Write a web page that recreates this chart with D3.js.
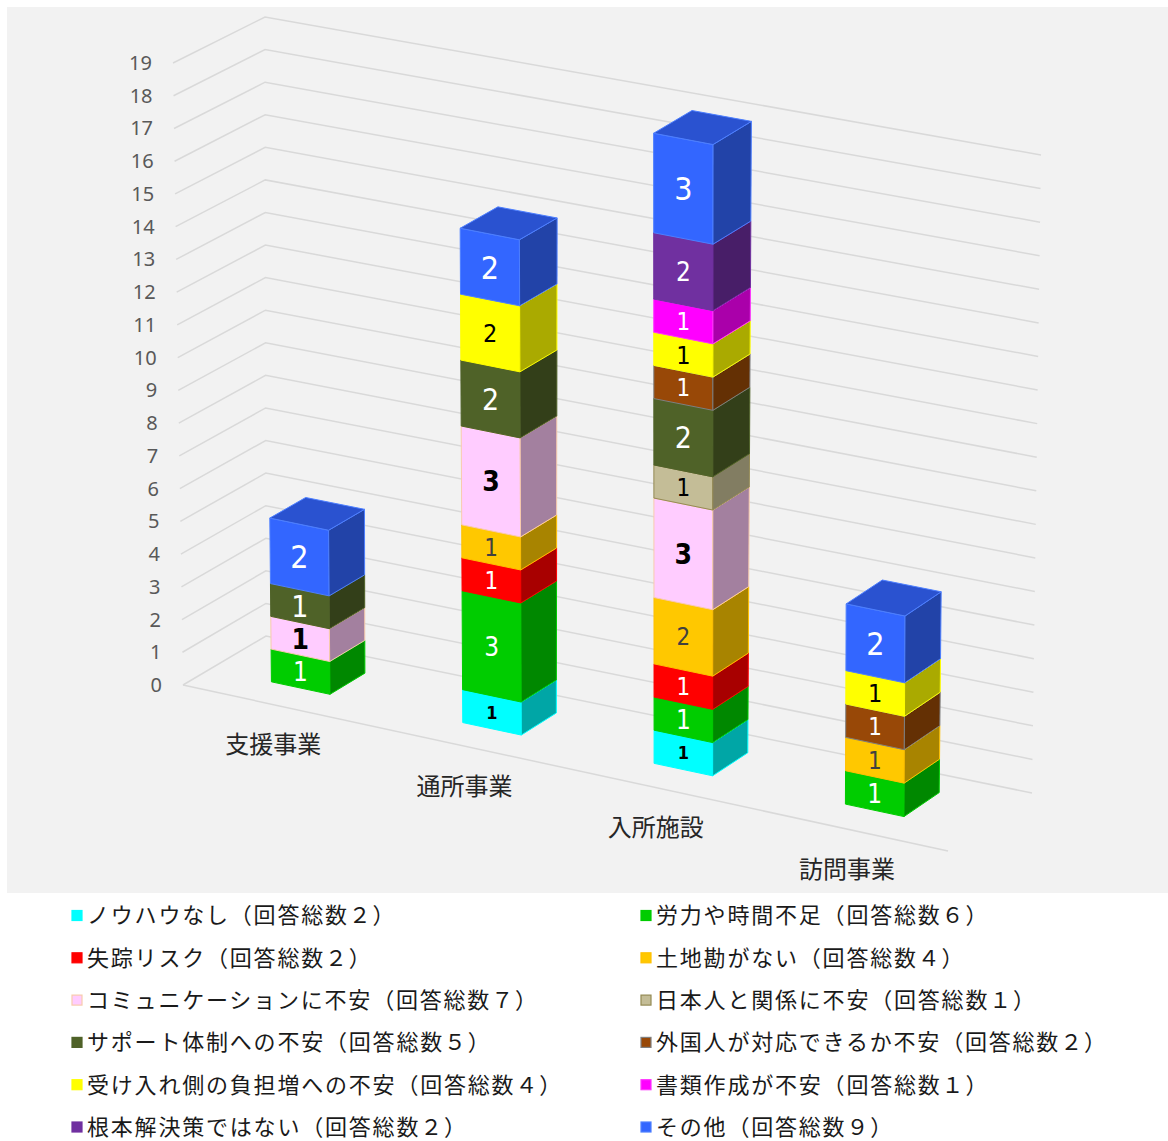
<!DOCTYPE html>
<html>
<head>
<meta charset="utf-8">
<script src="https://cdn.jsdelivr.net/npm/d3@7"></script>
<style>
  html, body { margin: 0; padding: 0; background: #ffffff; }
  svg { display: block; }
</style>
</head>
<body>
<svg id="chart" width="1168" height="1141"></svg>
<script>
// ---------------- DATA ----------------
const categories = ["支援事業", "通所事業", "入所施設", "訪問事業"];
const yTicks = [0, 1, 2, 3, 4, 5, 6, 7, 8, 9, 10, 11, 12, 13, 14, 15, 16, 17, 18, 19];

const seriesNames = [
  "ノウハウなし", "労力や時間不足", "失踪リスク", "土地勘がない",
  "コミュニケーションに不安", "日本人と関係に不安", "サポート体制への不安",
  "外国人が対応できるか不安", "受け入れ側の負担増への不安", "書類作成が不安",
  "根本解決策ではない", "その他"
];

const knowhow             = [0, 1, 1, 0];
const laborTime           = [1, 3, 1, 1];
const runawayRisk         = [0, 1, 1, 0];
const noLocalKnowledge    = [0, 1, 2, 1];
const communication       = [1, 3, 3, 0];
const japaneseRelations   = [0, 0, 1, 0];
const supportSystem       = [1, 2, 2, 0];
const foreignerCapability = [0, 0, 1, 1];
const hostBurden          = [0, 2, 1, 1];
const paperwork           = [0, 0, 1, 0];
const notFundamental      = [0, 0, 2, 0];
const other               = [2, 2, 3, 2];

const seriesValues = [knowhow, laborTime, runawayRisk, noLocalKnowledge, communication,
  japaneseRelations, supportSystem, foreignerCapability, hostBurden, paperwork,
  notFundamental, other];

// ---------------- STYLES ----------------
const styles = [
  {front:"#00FFFF", side:"#00A6A6", top:"#00D4D4", stroke:"#00FFFF", label:"#000000", size:18, weight:"bold"},
  {front:"#00CC00", side:"#008800", top:"#00AA00", stroke:"#00CC00", label:"#FFFFFF", size:26, weight:"normal"},
  {front:"#FF0000", side:"#A80000", top:"#D00000", stroke:"#FF0000", label:"#FFFFFF", size:24, weight:"normal"},
  {front:"#FFC800", side:"#A88400", top:"#D8A800", stroke:"#FFC000", label:"#404040", size:24, weight:"normal"},
  {front:"#FFCCFF", side:"#A3809F", top:"#D8ACD8", stroke:"#F8CBAD", label:"#000000", size:28, weight:"bold"},
  {front:"#C4BD97", side:"#827D62", top:"#A8A27E", stroke:"#948A54", label:"#000000", size:24, weight:"normal"},
  {front:"#4F6228", side:"#333F19", top:"#414F20", stroke:"#4F6228", label:"#FFFFFF", size:30, weight:"normal"},
  {front:"#984807", side:"#643004", top:"#7E3C06", stroke:"#7F7F7F", label:"#FFFFFF", size:24, weight:"normal"},
  {front:"#FFFF00", side:"#AAAA00", top:"#D6D600", stroke:"#FFFF00", label:"#000000", size:25, weight:"normal"},
  {front:"#FF00FF", side:"#AA00AA", top:"#D600D6", stroke:"#FF33FF", label:"#FFFFFF", size:24, weight:"normal"},
  {front:"#7030A0", side:"#481E68", top:"#5C2884", stroke:"#7030A0", label:"#FFFFFF", size:26, weight:"normal"},
  {front:"#3366FF", side:"#2243A8", top:"#2A52D0", stroke:"#4D7FFF", label:"#FFFFFF", size:32, weight:"normal"}
];

// ---------------- LAYOUT / PROJECTION ----------------
const svg = d3.select("#chart");
svg.append("rect").attr("x", 7).attr("y", 7).attr("width", 1161).attr("height", 886).attr("fill", "#F2F2F2");

// screen positions of the 8 corners of the 3D plot box (u: category axis, t: value, w: depth)
const C = {
  c000:[183,685], c010:[173,63], c001:[266,636], c011:[265,17],
  c100:[948,851], c110:[950,215], c101:[1032,793], c111:[1041,155]
};
const lerp = (a, b, s) => [a[0] + (b[0] - a[0]) * s, a[1] + (b[1] - a[1]) * s];
function proj(u, t, w) {
  const bot = lerp(lerp(C.c000, C.c100, u), lerp(C.c001, C.c101, u), w);
  const top = lerp(lerp(C.c010, C.c110, u), lerp(C.c011, C.c111, u), w);
  return lerp(bot, top, t);
}

const yScale = d3.scaleLinear().domain([0, 19]).range([0, 1]);
const xScale = d3.scaleBand().domain(categories).range([-0.007, 0.993]).paddingInner(0.694).paddingOuter(0.347);
const depth = d3.scaleLinear().domain([0, 1]).range([0.33, 0.75]);
const w0 = depth(0), w1 = depth(1);

const poly = pts => "M" + pts.map(p => p[0].toFixed(2) + "," + p[1].toFixed(2)).join("L") + "Z";
const seg = pts => "M" + pts.map(p => p[0].toFixed(2) + "," + p[1].toFixed(2)).join("L");

// gridlines (left wall + back wall)
const grid = svg.append("g").attr("fill", "none").attr("stroke", "#D9D9D9").attr("stroke-width", 1.5);
yTicks.forEach(v => {
  const t = yScale(v);
  grid.append("path").attr("d", seg([proj(0, t, 0), proj(0, t, 1), proj(1, t, 1)]));
});
// floor front edge
grid.append("path").attr("d", seg([proj(0, 0, 0), proj(1, 0, 0)]));

// y tick labels
const tickG = svg.append("g").attr("font-family", "'Noto Sans', 'Open Sans', sans-serif")
  .attr("font-size", 20).attr("fill", "#595959").attr("text-anchor", "end");
yTicks.forEach(v => {
  const p = proj(0, yScale(v), 0);
  tickG.append("text").attr("x", p[0] - 21).attr("y", p[1]).attr("dy", "0.35em").text(v);
});

// stacked data
const rows = categories.map((c, i) => {
  const r = {cat: c};
  seriesValues.forEach((arr, k) => r["s" + k] = arr[i]);
  return r;
});
const stack = d3.stack().keys(seriesValues.map((_, k) => "s" + k))(rows);

// bars
const barsG = svg.append("g");
categories.forEach((cat, ci) => {
  const u0 = xScale(cat), u1 = u0 + xScale.bandwidth();
  stack.forEach((layer, k) => {
    const d = layer[ci];
    const val = d[1] - d[0];
    if (val <= 0) return;
    const t0 = yScale(d[0]), t1 = yScale(d[1]);
    const st = styles[k];
    const g = barsG.append("g").attr("stroke", st.stroke).attr("stroke-width", 1).attr("stroke-linejoin", "round");
    g.append("path").attr("fill", st.front)
      .attr("d", poly([proj(u0, t0, w0), proj(u1, t0, w0), proj(u1, t1, w0), proj(u0, t1, w0)]));
    g.append("path").attr("fill", st.side)
      .attr("d", poly([proj(u1, t0, w0), proj(u1, t0, w1), proj(u1, t1, w1), proj(u1, t1, w0)]));
    g.append("path").attr("fill", st.top)
      .attr("d", poly([proj(u0, t1, w0), proj(u1, t1, w0), proj(u1, t1, w1), proj(u0, t1, w1)]));
  });
});

// data labels
const labelG = svg.append("g").attr("font-family", "'Liberation Sans Narrow', 'DejaVu Sans Condensed', 'Liberation Sans', sans-serif")
  .attr("text-anchor", "middle");
categories.forEach((cat, ci) => {
  const uc = xScale(cat) + xScale.bandwidth() / 2;
  stack.forEach((layer, k) => {
    const d = layer[ci];
    const val = d[1] - d[0];
    if (val <= 0) return;
    const p = proj(uc, yScale((d[0] + d[1]) / 2), w0);
    const st = styles[k];
    labelG.append("text").attr("x", p[0]).attr("y", p[1]).attr("dy", "0.36em")
      .attr("font-size", st.size).attr("font-weight", st.weight).attr("fill", st.label).text(val);
  });
});

// category labels
const catG = svg.append("g").attr("font-family", "'Noto Sans CJK JP', sans-serif")
  .attr("font-size", 24).attr("fill", "#262626").attr("text-anchor", "middle");
categories.forEach(cat => {
  const p = proj(xScale(cat) + xScale.bandwidth() / 2, 0, 0);
  catG.append("text").attr("x", p[0]).attr("y", p[1] + 40).attr("dy", "0.36em").text(cat);
});

// legend
const toFull = n => String(n).replace(/[0-9]/g, ch => String.fromCharCode(ch.charCodeAt(0) + 0xFEE0));
const legG = svg.append("g").attr("font-family", "'Noto Sans CJK JP', sans-serif").attr("font-size", 22)
  .attr("letter-spacing", "1.8px").attr("fill", "#1A1A1A");
seriesNames.forEach((name, k) => {
  const col = k % 2, row = Math.floor(k / 2);
  const mx = col === 0 ? 72 : 641;
  const cy = 915.5 + row * 42.3;
  const st = styles[k];
  legG.append("rect").attr("x", mx).attr("y", cy - 5).attr("width", 10).attr("height", 10)
    .attr("fill", st.front).attr("stroke", st.stroke).attr("stroke-width", 1.2);
  const total = d3.sum(seriesValues[k]);
  legG.append("text").attr("x", mx + 15).attr("y", cy).attr("dy", "0.36em")
    .text(name + "（回答総数" + toFull(total) + "）");
});
</script>
</body>
</html>
